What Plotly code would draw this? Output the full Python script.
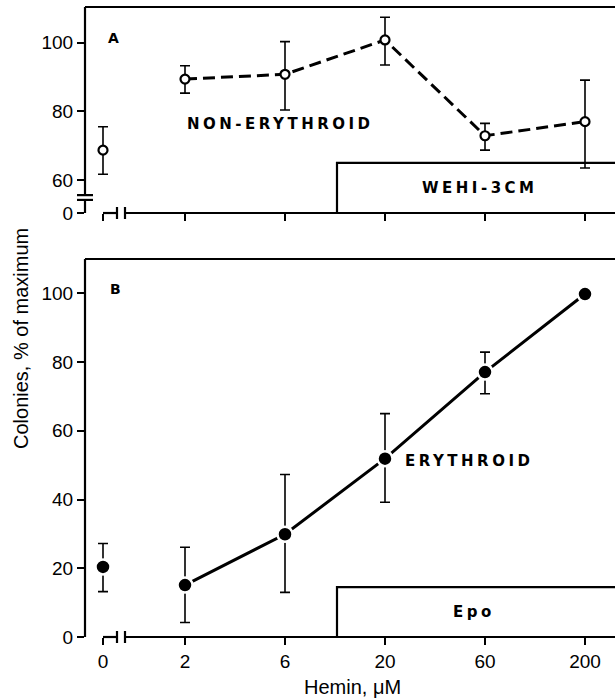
import plotly.graph_objects as go

# ---------------- data ----------------
hemin_labels = ["0", "2", "6", "20", "60", "200"]
# positions of the categories on the (broken) hemin axis
hemin_pos = [0.18, 1, 2, 3, 4, 5]

nonery_y = [68.7, 89.4, 90.8, 100.8, 72.9, 77.0]
nonery_plus = [6.8, 3.9, 9.5, 6.6, 3.6, 12.1]
nonery_minus = [7.0, 4.1, 10.4, 7.3, 4.2, 13.5]

ery_y = [20.4, 15.1, 29.9, 51.9, 77.1, 99.8]
ery_plus = [6.8, 11.0, 17.4, 13.1, 5.8, 0.0]
ery_minus = [7.2, 10.9, 16.9, 12.7, 6.3, 0.0]

a_ticks = [60, 80, 100]
b_ticks = [0, 20, 40, 60, 80, 100]

wehi_box_top = 65      # top of WEHI-3CM bar (panel A scale)
epo_box_top = 14.5     # top of Epo bar (panel B scale)
box_start = 2.52       # hemin axis position where the bars start

# ---------------- layout constants ----------------
W, H = 615, 698
ML, MR, MT, MB = 85, 0, 7, 61
XR = [0, 5.3]
A_RANGE = [50.39, 110.4]
B_RANGE = [0, 110]
A_DOM = [0.673, 1.0]
B_DOM = [0.0, 0.6]
FONT = "Liberation Sans, Arial, sans-serif"
BFONT = "DejaVu Sans, Liberation Sans, sans-serif"
BLACK = "black"
plot_w = W - ML - MR
plot_h = H - MT - MB
a_px = (A_DOM[1] - A_DOM[0]) * plot_h
b_px = (B_DOM[1] - B_DOM[0]) * plot_h


def xd(p):
    return (p - XR[0]) / (XR[1] - XR[0])


def yd(v, rng):
    return (v - rng[0]) / (rng[1] - rng[0])


fig = go.Figure()

err_style = dict(type="data", symmetric=False, color=BLACK, thickness=1.6, width=5)

# Panel A: non-erythroid (open circles, dashed)
fig.add_trace(go.Scatter(
    x=hemin_pos[:1], y=nonery_y[:1], mode="markers",
    marker=dict(symbol="circle", size=9, color="white", line=dict(color=BLACK, width=2.2)),
    error_y=dict(array=nonery_plus[:1], arrayminus=nonery_minus[:1], **err_style),
    xaxis="x", yaxis="y", showlegend=False, hoverinfo="skip"))
fig.add_trace(go.Scatter(
    x=hemin_pos[1:], y=nonery_y[1:], mode="lines+markers",
    line=dict(color=BLACK, width=3, dash="12px,6px"),
    marker=dict(symbol="circle", size=9, color="white", line=dict(color=BLACK, width=2.2)),
    error_y=dict(array=nonery_plus[1:], arrayminus=nonery_minus[1:], **err_style),
    xaxis="x", yaxis="y", showlegend=False, hoverinfo="skip"))

# Panel B: erythroid (filled circles, solid)
fig.add_trace(go.Scatter(
    x=hemin_pos[:1], y=ery_y[:1], mode="markers",
    marker=dict(symbol="circle", size=15, color=BLACK, line=dict(color="white", width=2.5)),
    error_y=dict(array=ery_plus[:1], arrayminus=ery_minus[:1], **err_style),
    xaxis="x2", yaxis="y2", showlegend=False, hoverinfo="skip"))
fig.add_trace(go.Scatter(
    x=hemin_pos[1:], y=ery_y[1:], mode="lines+markers",
    line=dict(color=BLACK, width=3),
    marker=dict(symbol="circle", size=15, color=BLACK, line=dict(color="white", width=2.5)),
    error_y=dict(array=ery_plus[1:], arrayminus=ery_minus[1:], **err_style),
    xaxis="x2", yaxis="y2", showlegend=False, hoverinfo="skip"))

tickfont = dict(family=FONT, size=19, color=BLACK)
common_x = dict(range=XR, showgrid=False, zeroline=False, showline=False,
                tickmode="array", tickvals=hemin_pos, ticktext=hemin_labels,
                ticks="outside", ticklen=7, tickwidth=2, tickcolor=BLACK,
                tickfont=tickfont, fixedrange=True)
common_y = dict(showgrid=False, zeroline=False, showline=False,
                ticks="outside", ticklen=7, tickwidth=2, tickcolor=BLACK,
                tickfont=tickfont, tickmode="array", fixedrange=True)

fig.update_layout(
    width=W, height=H, autosize=False,
    margin=dict(l=ML, r=MR, t=MT, b=MB),
    paper_bgcolor="white", plot_bgcolor="white",
    xaxis=dict(domain=[0, 1], anchor="y", showticklabels=False, **common_x),
    yaxis=dict(domain=A_DOM, anchor="x", range=A_RANGE,
               tickvals=[A_RANGE[0] + 0.02] + a_ticks,
               ticktext=["0"] + [str(t) for t in a_ticks], **common_y),
    xaxis2=dict(domain=[0, 1], anchor="y2", **common_x),
    yaxis2=dict(domain=B_DOM, anchor="x2", range=B_RANGE,
                tickvals=b_ticks, ticktext=[str(t) for t in b_ticks], **common_y),
)

shapes = []
LW = 2.2
line = dict(color=BLACK, width=LW)


def seg(xref, yref, x0, y0, x1, y1):
    shapes.append(dict(type="line", xref=xref, yref=yref, x0=x0, y0=y0, x1=x1, y1=y1, line=line))


# bars (WEHI-3CM / Epo)
shapes.append(dict(type="rect", xref="x domain", yref="y domain", x0=xd(box_start), x1=1.05,
                   y0=0, y1=yd(wehi_box_top, A_RANGE), line=line, fillcolor="white", layer="below"))
shapes.append(dict(type="rect", xref="x2 domain", yref="y2 domain", x0=xd(box_start), x1=1.05,
                   y0=0, y1=yd(epo_box_top, B_RANGE), line=line, fillcolor="white", layer="below"))

# Panel A frame with y-axis break
brk_hi, brk_lo = yd(55.6, A_RANGE), yd(54.2, A_RANGE)
seg("x domain", "y domain", 0, 1, 1.05, 1)
seg("x domain", "y domain", 0, brk_hi, 0, 1)
seg("x domain", "y domain", 0, 0, 0, brk_lo)
bx = 8 / plot_w
seg("x domain", "y domain", -bx, brk_hi, bx, brk_hi)
seg("x domain", "y domain", -bx, brk_lo, bx, brk_lo)

# Panel B frame
seg("x2 domain", "y2 domain", 0, 1, 1.05, 1)
seg("x2 domain", "y2 domain", 0, 0, 0, 1)

# x axes with break
for xr, yr, hpx in (("x domain", "y domain", a_px), ("x2 domain", "y2 domain", b_px)):
    seg(xr, yr, xd(0.18), 0, xd(0.32), 0)
    seg(xr, yr, xd(0.40), 0, 1.05, 0)
    h = 6 / hpx
    seg(xr, yr, xd(0.32), -h, xd(0.32), h)
    seg(xr, yr, xd(0.40), -h, xd(0.40), h)

fig.update_layout(shapes=shapes)

bold = dict(family=BFONT, size=15, color=BLACK, weight="bold")


def spaced(t, s=3.5):
    return '<span style="letter-spacing:%spx">%s</span>' % (s, t)


def ann(text, xref, yref, x, y, font, **kw):
    d = dict(text=text, xref=xref, yref=yref, x=x, y=y, showarrow=False,
             xanchor="center", yanchor="middle", font=font)
    d.update(kw)
    return d


annotations = [
    ann("A", "x domain", "y domain", (113 - ML) / plot_w, (213 - 38) / a_px,
        dict(family=BFONT, size=14, color=BLACK, weight="bold")),
    ann("B", "x2 domain", "y2 domain", (115 - ML) / plot_w, (637 - 289) / b_px,
        dict(family=BFONT, size=14, color=BLACK, weight="bold")),
    ann(spaced("NON-ERYTHROID"), "x domain", "y domain", (280 - ML) / plot_w, (213 - 124) / a_px, bold),
    ann(spaced("WEHI-3CM"), "x domain", "y domain", (480 - ML) / plot_w, (213 - 188) / a_px, bold),
    ann(spaced("ERYTHROID"), "x2 domain", "y2 domain", (469 - ML) / plot_w, (637 - 461) / b_px, bold),
    ann(spaced("Epo"), "x2 domain", "y2 domain", (474 - ML) / plot_w, (637 - 612) / b_px, bold),
    ann("Colonies, % of maximum", "paper", "paper", (21 - ML) / plot_w, (637 - 339) / plot_h,
        dict(family=FONT, size=20, color=BLACK), textangle=-90),
    ann("Hemin, μM", "paper", "paper", (352 - ML) / plot_w, (637 - 687) / plot_h,
        dict(family=FONT, size=20, color=BLACK)),
]
fig.update_layout(annotations=annotations)

fig.write_html("out.html", config={"displayModeBar": False, "staticPlot": True},
               post_script="document.body.style.margin='0';document.body.style.overflow='hidden';")
